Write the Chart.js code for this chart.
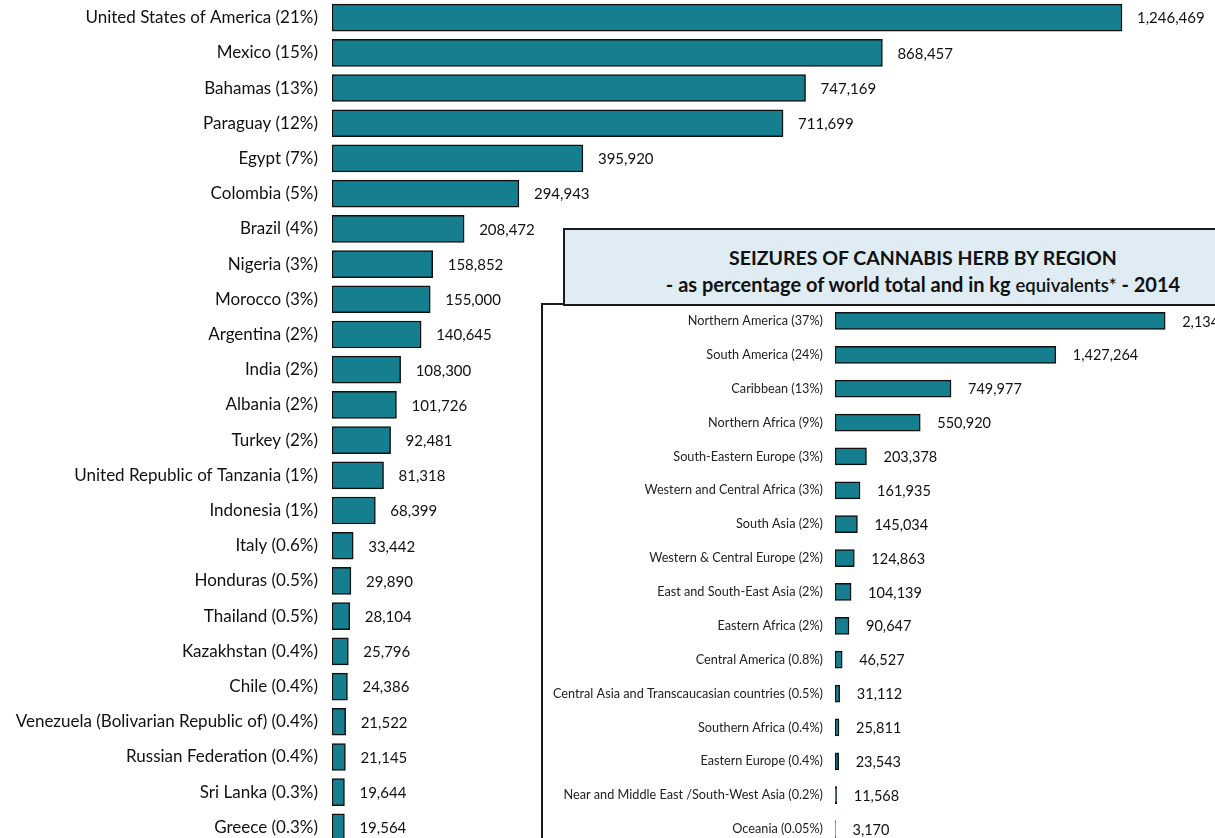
<!DOCTYPE html>
<html>
<head>
<meta charset="utf-8">
<script src="https://cdn.jsdelivr.net/npm/chart.js@4.4.1/dist/chart.umd.min.js"></script>
<style>
    html, body { margin: 0; padding: 0; background: #fff; overflow: hidden; width: 1215px; height: 838px; }
    #mainWrap { position: absolute; left: 0; top: 0; width: 1215px; height: 845px; }
    #insetBox { position: absolute; left: 541px; top: 303px; width: 720px; height: 600px;
        border: 2px solid #1a1a1a; background: #fff; }
    #insetWrap { position: absolute; left: 543px; top: 304px; width: 672px; height: 542px; }
    #titleBox { position: absolute; left: 563px; top: 228px; width: 720px; height: 74px;
        border: 2px solid #1a1a1a; background: #dfecf3; }
    #titleText { position: absolute; left: 563px; top: 245px; width: 720px; text-align: center;
        font-family: Lato, sans-serif; font-weight: bold; color: #111; }
    #titleText .l1 { font-size: 19.5px; line-height: 26px; }
    #titleText .l2 { font-size: 20px; line-height: 26px; }
    #titleText .sm { font-size: 18.5px; font-weight: 600; }
</style>
</head>
<body>
<div id="mainWrap"><canvas id="mainChart"></canvas></div>
<div id="insetBox"></div>
<div id="insetWrap"><canvas id="insetChart"></canvas></div>
<div id="titleBox"></div>
<div id="titleText">
    <div class="l1">SEIZURES OF CANNABIS HERB BY REGION</div>
    <div class="l2">- as percentage of world total and in kg <span class="sm">equivalents*</span> - 2014</div>
</div>
<script>
// countries, kg equivalents, 2014
const countries = [
    'United States of America (21%)', 'Mexico (15%)', 'Bahamas (13%)', 'Paraguay (12%)',
    'Egypt (7%)', 'Colombia (5%)', 'Brazil (4%)', 'Nigeria (3%)', 'Morocco (3%)',
    'Argentina (2%)', 'India (2%)', 'Albania (2%)', 'Turkey (2%)',
    'United Republic of Tanzania (1%)', 'Indonesia (1%)', 'Italy (0.6%)', 'Honduras (0.5%)',
    'Thailand (0.5%)', 'Kazakhstan (0.4%)', 'Chile (0.4%)',
    'Venezuela (Bolivarian Republic of) (0.4%)', 'Russian Federation (0.4%)',
    'Sri Lanka (0.3%)', 'Greece (0.3%)'
];
const countryValues = [
    1246469, 868457, 747169, 711699, 395920, 294943, 208472, 158852, 155000,
    140645, 108300, 101726, 92481, 81318, 68399, 33442, 29890, 28104, 25796,
    24386, 21522, 21145, 19644, 19564
];

// regions, kg equivalents, 2014
const regions = [
    'Northern America (37%)', 'South America (24%)', 'Caribbean (13%)', 'Northern Africa (9%)',
    'South-Eastern Europe (3%)', 'Western and Central Africa (3%)', 'South Asia (2%)',
    'Western & Central Europe (2%)', 'East and South-East Asia (2%)', 'Eastern Africa (2%)',
    'Central America (0.8%)', 'Central Asia and Transcaucasian countries (0.5%)',
    'Southern Africa (0.4%)', 'Eastern Europe (0.4%)',
    'Near and Middle East /South-West Asia (0.2%)', 'Oceania (0.05%)'
];
const regionValues = [
    2134000, 1427264, 749977, 550920, 203378, 161935, 145034, 124863, 104139,
    90647, 46527, 31112, 25811, 23543, 11568, 3170
];

const BAR_FILL = '#167f8f';
const FONT = 'Lato, sans-serif';

// draws the value right of each bar
const valueLabels = {
    id: 'valueLabels',
    afterDatasetsDraw(chart, args, opts) {
        const ctx = chart.ctx;
        const meta = chart.getDatasetMeta(0);
        ctx.save();
        ctx.font = opts.size + 'px ' + FONT;
        ctx.fillStyle = '#111';
        ctx.textAlign = 'left';
        ctx.textBaseline = 'middle';
        meta.data.forEach((bar, i) => {
            const v = chart.data.datasets[0].data[i];
            ctx.fillText(v.toLocaleString('en-US'), bar.x + opts.gap, bar.y + 1);
        });
        ctx.restore();
    }
};

function makeChart(id, labels, values, cfg) {
    return new Chart(document.getElementById(id), {
        type: 'bar',
        data: {
            labels: labels,
            datasets: [{
                data: values,
                backgroundColor: BAR_FILL,
                borderColor: '#111',
                borderWidth: 1.5,
                borderSkipped: false,
                barThickness: cfg.thickness
            }]
        },
        options: {
            indexAxis: 'y',
            responsive: true,
            maintainAspectRatio: false,
            animation: false,
            layout: { padding: 0 },
            plugins: {
                legend: { display: false },
                tooltip: { enabled: false },
                valueLabels: { size: cfg.valueSize, gap: cfg.gap }
            },
            scales: {
                x: { display: false, min: 0, max: cfg.max },
                y: {
                    // fixed label column, no extra space above/below the rows
                    afterFit: (scale) => {
                        scale.width = cfg.axisWidth;
                        scale.paddingTop = 0;
                        scale.paddingBottom = 0;
                    },
                    border: { display: false },
                    grid: { display: false, drawTicks: false },
                    ticks: {
                        padding: cfg.labelPad,
                        color: cfg.labelColor,
                        autoSkip: false,
                        font: { family: FONT, size: cfg.labelSize }
                    }
                }
            }
        },
        plugins: [valueLabels]
    });
}

makeChart('mainChart', countries, countryValues, {
    thickness: 27, max: 1393215, axisWidth: 332, labelPad: 14, labelSize: 17,
    labelColor: '#111', valueSize: 15, gap: 15
});
makeChart('insetChart', regions, regionValues, {
    thickness: 17, max: 2456000, axisWidth: 292, labelPad: 12, labelSize: 12.7,
    labelColor: '#222', valueSize: 14.5, gap: 17
});
</script>
</body>
</html>
